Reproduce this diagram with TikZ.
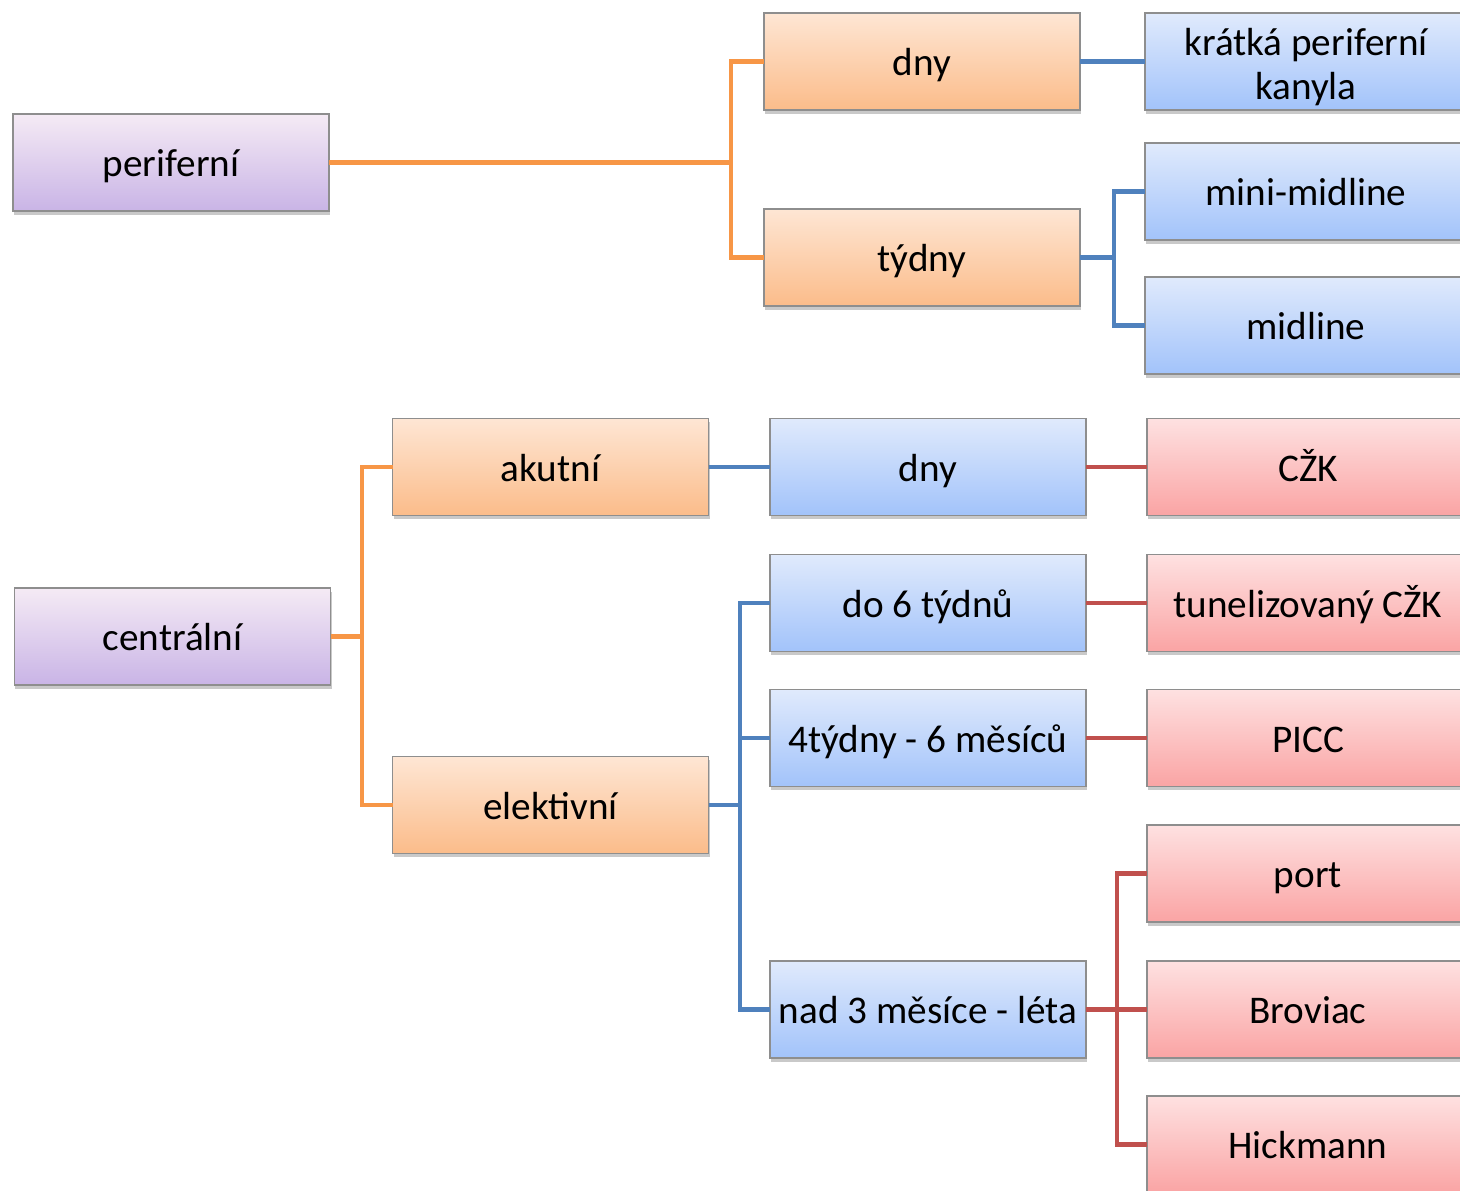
\documentclass[tikz,border=0pt]{standalone}
\usepackage{fontspec}
\setmainfont{Carlito}
\usepackage{xcolor}
\usepackage{tikz}
\usetikzlibrary{positioning, shadows}
\definecolor{lnorange}{HTML}{F79646}
\definecolor{lnblue}{HTML}{4F81BD}
\definecolor{lnred}{HTML}{C0504D}
\definecolor{edgegray}{HTML}{8E8E8E}

\begin{document}
\begin{tikzpicture}[font=\fontsize{22.3}{25}\selectfont]
  \tikzstyle{box}=[rectangle, minimum width=6.32cm, minimum height=1.94cm,
                   inner sep=0pt, outer sep=0pt, draw=edgegray, line width=0.6pt,
                   text centered, align=center, text height=16pt, text depth=0pt,
                   drop shadow={shadow xshift=0.02cm, shadow yshift=-0.07cm,
                                opacity=0.3, fill=black!70}]
  \tikzstyle{rootbox}=[box, top color=violet!8!white, bottom color={rgb,255:red,201;green,180;blue,230}]
  \tikzstyle{midbox}=[box, top color={rgb,255:red,254;green,230;blue,212}, bottom color={rgb,255:red,251;green,188;blue,138}]
  \tikzstyle{bluebox}=[box, top color={rgb,255:red,224;green,234;blue,252}, bottom color={rgb,255:red,162;green,195;blue,250}]
  \tikzstyle{redbox}=[box, minimum width=6.44cm, top color={rgb,255:red,254;green,225;blue,225}, bottom color={rgb,255:red,250;green,164;blue,164}]
  \tikzstyle{lo}=[line width=2.7pt, color=lnorange]
  \tikzstyle{lb}=[line width=2.7pt, color=lnblue]
  \tikzstyle{lr}=[line width=2.7pt, color=lnred]

  \useasboundingbox (0,0) rectangle (29.2,-23.8);

  \node[rootbox](perif) at (3.42,-3.25){periferní};
  \node[rootbox](centr) at (3.45,-12.73){centrální};

  \node[midbox](dnyA) at (18.44,-1.23){dny};
  \node[midbox](tydny) at (18.44,-5.15){týdny};
  \node[bluebox, minimum width=6.44cm, text height=44.8pt, text depth=1.8pt](kanyla) at (26.12,-1.23){krátká periferní\\kanyla};
  \node[bluebox, minimum width=6.44cm](mini) at (26.12,-3.83){mini-midline};
  \node[bluebox, minimum width=6.44cm](midl) at (26.12,-6.51){midline};

  \node[midbox](akut) at (11.01,-9.34){akutní};
  \node[midbox](elekt) at (11.01,-16.10){elektivní};
  \node[bluebox](dnyB) at (18.56,-9.34){dny};
  \node[bluebox](do6) at (18.56,-12.06){do 6 týdnů};
  \node[bluebox](t4) at (18.56,-14.76){4týdny - 6 měsíců};
  \node[bluebox](nad3) at (18.56,-20.19){nad 3 měsíce - léta};
  \node[redbox](czk) at (26.16,-9.34){CŽK};
  \node[redbox](tunel) at (26.16,-12.06){tunelizovaný CŽK};
  \node[redbox](picc) at (26.16,-14.76){PICC};
  \node[redbox](port) at (26.16,-17.47){port};
  \node[redbox](brov) at (26.16,-20.19){Broviac};
  \node[redbox](hick) at (26.16,-22.89){Hickmann};

  \coordinate (busA) at (14.62,-3.25);
  \coordinate (busB) at (22.28,-5.15);
  \coordinate (busC) at (7.24,-12.73);
  \coordinate (busD) at (14.80,-16.10);
  \coordinate (busE) at (22.34,-20.19);

  \draw[lo](perif.east)--(busA);
  \draw[lo](dnyA.west)-|(busA)|-(tydny.west);
  \draw[lb](dnyA.east)--(kanyla.west);
  \draw[lb](tydny.east)--(busB);
  \draw[lb](mini.west)-|(busB)|-(midl.west);

  \draw[lo](centr.east)--(busC);
  \draw[lo](akut.west)-|(busC)|-(elekt.west);
  \draw[lb](akut.east)--(dnyB.west);
  \draw[lb](elekt.east)--(busD);
  \draw[lb](do6.west)-|(busD)|-(nad3.west);
  \draw[lb](t4.west)--(t4.west-|busD);
  \draw[lr](dnyB.east)--(czk.west);
  \draw[lr](do6.east)--(tunel.west);
  \draw[lr](t4.east)--(picc.west);
  \draw[lr](nad3.east)--(busE);
  \draw[lr](port.west)-|(busE)|-(hick.west);
  \draw[lr](busE)--(brov.west);
\end{tikzpicture}
\end{document}
